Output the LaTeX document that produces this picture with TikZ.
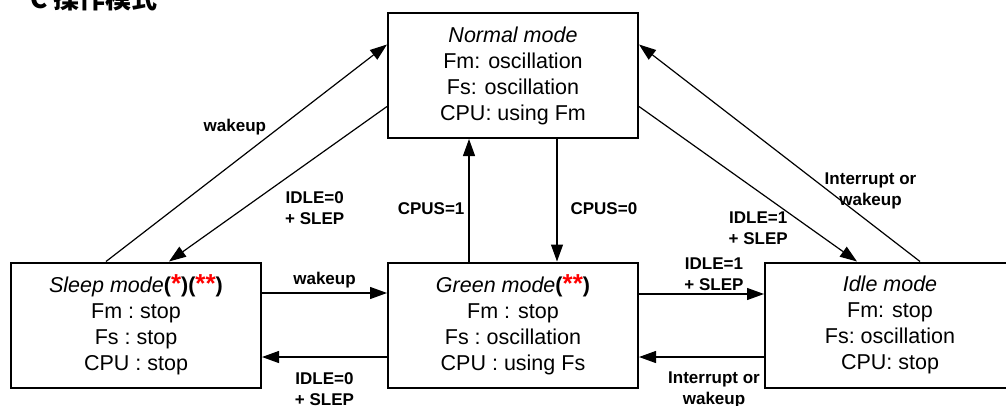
\documentclass[tikz,border=0pt]{standalone}
\usepackage{fontspec}
\setmainfont{Liberation Sans}
\newfontfamily\cjkfont{Noto Sans CJK SC}
\usepackage{xcolor}
\usetikzlibrary{arrows.meta}

\begin{document}
\begin{tikzpicture}[x=1pt, y=-1pt,
  modebox/.style={draw, line width=2pt, minimum width=250pt, minimum height=125pt,
    inner sep=0pt, align=center, font=\fontsize{21.5}{26}\selectfont},
  trans/.style={line width=1.2pt, -{Triangle[length=17pt, width=12pt]}},
  lbl/.style={inner sep=0pt, align=center, font=\bfseries\fontsize{17}{21}\selectfont}]

  % page frame, the picture is cut at its edges
  \useasboundingbox (0,0) rectangle (1006,405);
  \clip (0,0) rectangle (1006,405);

  % title (cut off at the top)
  \node[anchor=base east, inner sep=0pt, font=\cjkfont\bfseries\fontsize{26}{26}\selectfont] (title) at (158,8) {C 操作模式};

  % the four modes
  \node[modebox] (normal) at (513,75.5) {\textit{Normal mode}\\Fm: oscillation\\Fs: oscillation\\CPU: using Fm};
  \node[modebox] (sleep) at (136,325) {\textit{Sleep mode}\textbf{(}{\color{red}\bfseries\fontsize{26}{26}\selectfont *}\textbf{)(}{\color{red}\bfseries\fontsize{26}{26}\selectfont **}\textbf{)}\\Fm :\ stop\\Fs :\ stop\\CPU :\ stop};
  \node[modebox] (green) at (513,325) {\textit{Green mode}\textbf{(}{\color{red}\bfseries\fontsize{26}{26}\selectfont **}\textbf{)}\\Fm : stop\\Fs :\ oscillation\\CPU :\ using Fs};
  \node[modebox] (idle) at (890,325) {\textit{Idle mode}\\Fm: stop\\Fs:\ oscillation\\CPU: stop};

  % horizontal transitions
  \draw[trans] ([yshift=32pt]sleep.east) -- ([yshift=32pt]green.west)
    node[lbl, midway, above=4pt] {wakeup};
  \draw[trans] ([yshift=-32pt]green.west) -- ([yshift=-32pt]sleep.east)
    node[lbl, midway, below=15pt] {IDLE=0\\+ SLEP};
  \draw[trans] ([yshift=31pt]green.east) -- ([yshift=31pt]idle.west)
    node[lbl, pos=0.6, above=2.5pt] {IDLE=1\\+ SLEP};
  \draw[trans] ([yshift=-32pt]idle.west) -- ([yshift=-32pt]green.east)
    node[lbl, pos=0.4, below=14pt] {Interrupt or\\wakeup};

  % vertical transitions
  \draw[trans] ([xshift=-44pt]green.north) -- ([xshift=-44pt]normal.south)
    node[lbl, pos=0.432, left=4pt] {CPUS=1};
  \draw[trans] ([xshift=44pt]normal.south) -- ([xshift=44pt]green.north)
    node[lbl, pos=0.568, right=13pt] {CPUS=0};

  % diagonal transitions
  \draw[trans] ([xshift=-30pt]sleep.north) -- ([yshift=31pt]normal.west)
    node[lbl, pos=0.618, left=13pt] {wakeup};
  \draw[trans] ([yshift=-31pt]normal.west) -- ([xshift=33pt]sleep.north)
    node[lbl, pos=0.658, right=41pt] {IDLE=0\\+ SLEP};
  \draw[trans] ([yshift=-31pt]normal.east) -- ([xshift=-33pt]idle.north)
    node[lbl, pos=0.786, left=22pt] {IDLE=1\\+ SLEP};
  \draw[trans] ([xshift=30pt]idle.north) -- ([yshift=31pt]normal.east)
    node[lbl, pos=0.327, right=-4pt] {Interrupt or\\wakeup};

\end{tikzpicture}
\end{document}
